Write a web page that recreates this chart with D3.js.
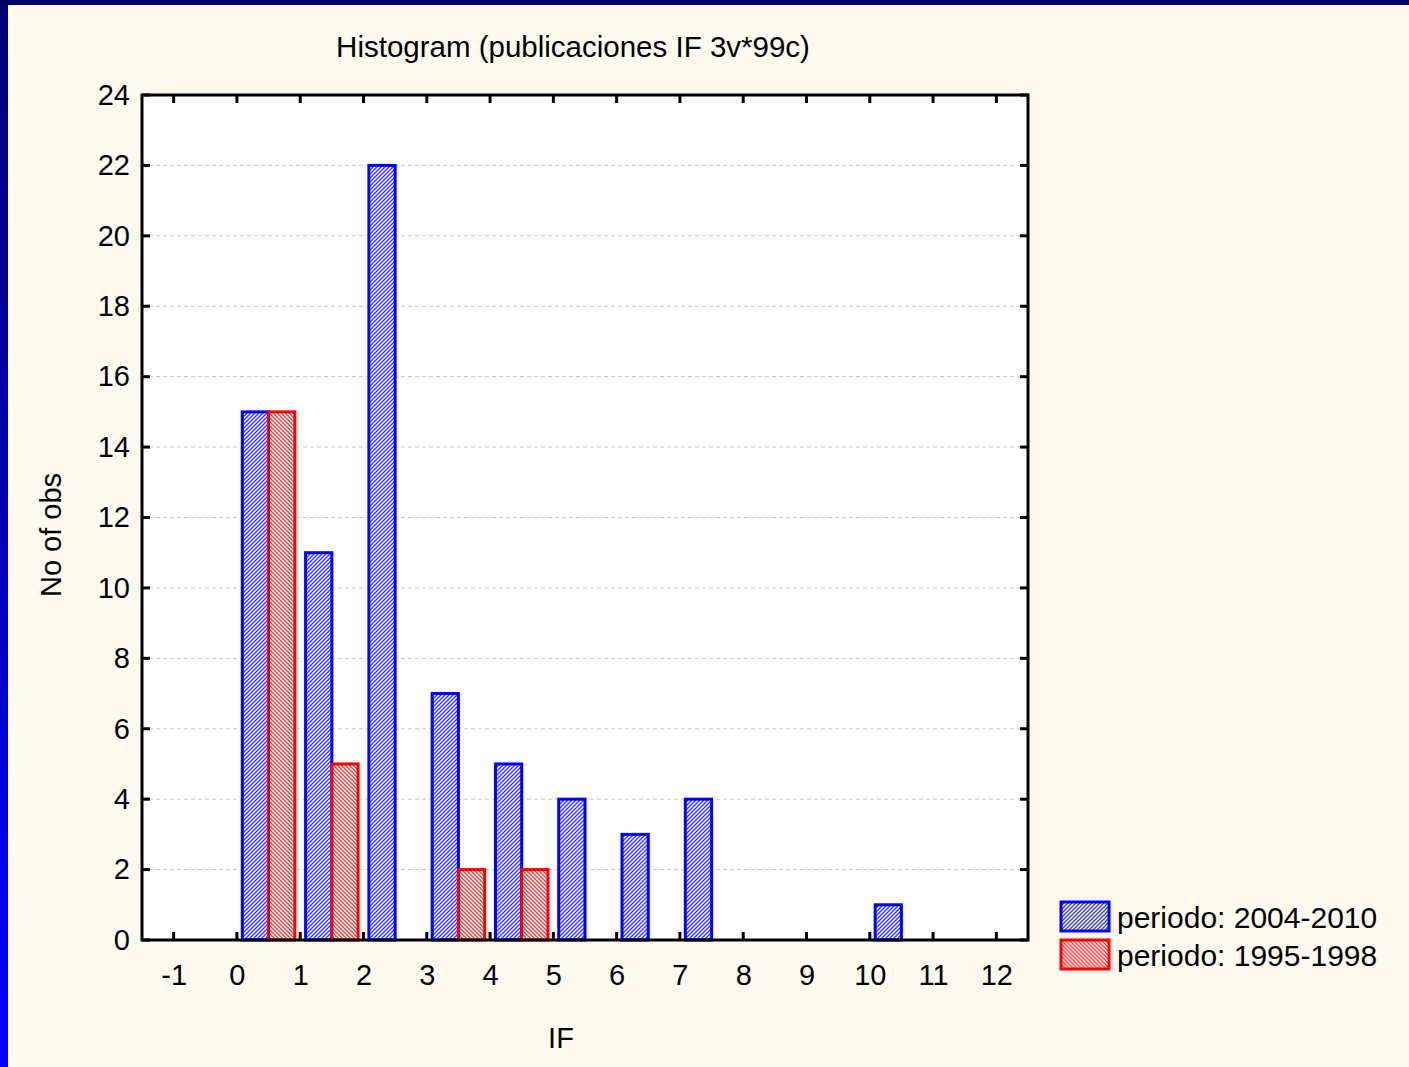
<!DOCTYPE html>
<html>
<head>
<meta charset="utf-8">
<script src="https://cdn.jsdelivr.net/npm/d3@7"></script>
<style>
  html, body { margin: 0; padding: 0; background: #fffaf0; }
  svg { display: block; font-family: "Liberation Sans", Arial, sans-serif; }
</style>
</head>
<body>
<div id="container"></div>
<script>
/* DATA */
const bins = [0, 1, 2, 3, 4, 5, 6, 7, 8, 9, 10, 11]; // lower edge of each IF bin
const counts2004 = [15, 11, 22, 7, 5, 4, 3, 4, 0, 0, 1, 0]; // periodo: 2004-2010
const counts1995 = [15, 5, 0, 2, 2, 0, 0, 0, 0, 0, 0, 0];   // periodo: 1995-1998
const xTicks = [-1, 0, 1, 2, 3, 4, 5, 6, 7, 8, 9, 10, 11, 12];
const yTicks = [0, 2, 4, 6, 8, 10, 12, 14, 16, 18, 20, 22, 24];
const seriesNames = ["periodo: 2004-2010", "periodo: 1995-1998"];

/* CONSTANTS */
const width = 1409, height = 1067;
const plot = { left: 142, right: 1028, top: 95, bottom: 940 };

const svg = d3.select("#container").append("svg")
  .attr("width", width)
  .attr("height", height);

// page background + blue frame (slide look)
const defs = svg.append("defs");
const grad = defs.append("linearGradient").attr("id", "sideGrad")
  .attr("x1", 0).attr("y1", 0).attr("x2", 0).attr("y2", 1);
grad.append("stop").attr("offset", "0%").attr("stop-color", "#000070");
grad.append("stop").attr("offset", "100%").attr("stop-color", "#0000ff");

svg.append("rect").attr("width", width).attr("height", height).attr("fill", "#fffaf0");
svg.append("rect").attr("x", 0).attr("y", 0).attr("width", 8).attr("height", height).attr("fill", "url(#sideGrad)");
svg.append("rect").attr("x", 0).attr("y", 0).attr("width", width).attr("height", 5).attr("fill", "#000066");

// hatch patterns
function hatch(id, color, dir) {
  const p = defs.append("pattern").attr("id", id)
    .attr("patternUnits", "userSpaceOnUse")
    .attr("width", 4).attr("height", 4);
  p.append("rect").attr("width", 4).attr("height", 4).attr("fill", "white");
  const d = dir > 0 ? "M-1,1 l2,-2 M0,4 l4,-4 M3,5 l2,-2" : "M-1,3 l2,2 M0,0 l4,4 M3,-1 l2,2";
  p.append("path").attr("d", d).attr("stroke", color).attr("stroke-width", 1.3).attr("opacity", 0.8);
}
hatch("hatchBlue", "#0000ff", 1);
hatch("hatchRed", "#ff0000", -1);

/* SCALES */
const xScale = d3.scaleLinear().domain([-1.5, 12.5]).range([plot.left, plot.right]);
const yScale = d3.scaleLinear().domain([0, 24]).range([plot.bottom, plot.top]);

// plot area
svg.append("rect")
  .attr("x", plot.left).attr("y", plot.top)
  .attr("width", plot.right - plot.left).attr("height", plot.bottom - plot.top)
  .attr("fill", "white");

// grid lines
svg.append("g")
  .selectAll("line")
  .data(yTicks.filter(d => d > 0 && d < 24))
  .join("line")
  .attr("x1", plot.left).attr("x2", plot.right)
  .attr("y1", d => yScale(d)).attr("y2", d => yScale(d))
  .attr("stroke", "#c8c8c8").attr("stroke-width", 1)
  .attr("stroke-dasharray", "4,3");

// bars
const inset = 0.085, half = (1 - 2 * inset) / 2;
const series = [
  { values: counts2004, fill: "url(#hatchBlue)", stroke: "#0000ff", offset: 0 },
  { values: counts1995, fill: "url(#hatchRed)", stroke: "#ff0000", offset: 1 }
];
series.forEach(s => {
  svg.append("g")
    .selectAll("rect")
    .data(bins.map((b, i) => ({ b, v: s.values[i] })).filter(d => d.v > 0))
    .join("rect")
    .attr("x", d => xScale(d.b + inset + s.offset * half))
    .attr("width", d => xScale(d.b + inset + half) - xScale(d.b + inset))
    .attr("y", d => yScale(d.v))
    .attr("height", d => yScale(0) - yScale(d.v))
    .attr("fill", s.fill)
    .attr("stroke", s.stroke)
    .attr("stroke-width", 3);
});

/* AXES */
const tickLen = 8;
const xAxis = d3.axisBottom(xScale).tickValues(xTicks).tickSize(0).tickPadding(24)
  .tickFormat(d => String(d));
const yAxis = d3.axisLeft(yScale).tickValues(yTicks).tickSize(0).tickPadding(12);

const gx = svg.append("g").attr("transform", `translate(0,${plot.bottom})`).call(xAxis);
const gy = svg.append("g").attr("transform", `translate(${plot.left},0)`).call(yAxis);
[gx, gy].forEach(g => {
  g.select(".domain").remove();
  g.selectAll("text").attr("font-size", 29).attr("fill", "#000")
    .attr("font-family", "Liberation Sans, Arial, sans-serif");
});

// inward ticks on all four sides
const ticks = svg.append("g").attr("stroke", "#000").attr("stroke-width", 3);
xTicks.forEach(t => {
  ticks.append("line").attr("x1", xScale(t)).attr("x2", xScale(t))
    .attr("y1", plot.bottom).attr("y2", plot.bottom - tickLen);
  ticks.append("line").attr("x1", xScale(t)).attr("x2", xScale(t))
    .attr("y1", plot.top).attr("y2", plot.top + tickLen);
});
yTicks.forEach(t => {
  ticks.append("line").attr("y1", yScale(t)).attr("y2", yScale(t))
    .attr("x1", plot.left).attr("x2", plot.left + tickLen);
  ticks.append("line").attr("y1", yScale(t)).attr("y2", yScale(t))
    .attr("x1", plot.right).attr("x2", plot.right - tickLen);
});

// frame
svg.append("rect")
  .attr("x", plot.left).attr("y", plot.top)
  .attr("width", plot.right - plot.left).attr("height", plot.bottom - plot.top)
  .attr("fill", "none").attr("stroke", "#000").attr("stroke-width", 3);

/* TITLES */
svg.append("text")
  .attr("x", 573).attr("y", 57)
  .attr("text-anchor", "middle").attr("font-size", 29.5)
  .text("Histogram (publicaciones IF 3v*99c)");

svg.append("text")
  .attr("x", 561).attr("y", 1048)
  .attr("text-anchor", "middle").attr("font-size", 29)
  .text("IF");

svg.append("text")
  .attr("transform", `translate(61,535) rotate(-90)`)
  .attr("text-anchor", "middle").attr("font-size", 29)
  .text("No of obs");

/* LEGEND */
const legend = svg.append("g").attr("transform", "translate(1061,902)");
series.forEach((s, i) => {
  const row = legend.append("g").attr("transform", `translate(0,${i * 38})`);
  row.append("rect").attr("x", 0).attr("y", 0).attr("width", 48).attr("height", 29)
    .attr("fill", s.fill).attr("stroke", s.stroke).attr("stroke-width", 3);
  row.append("text").attr("x", 56).attr("y", 26).attr("font-size", 30)
    .text(seriesNames[i]);
});
</script>
</body>
</html>
